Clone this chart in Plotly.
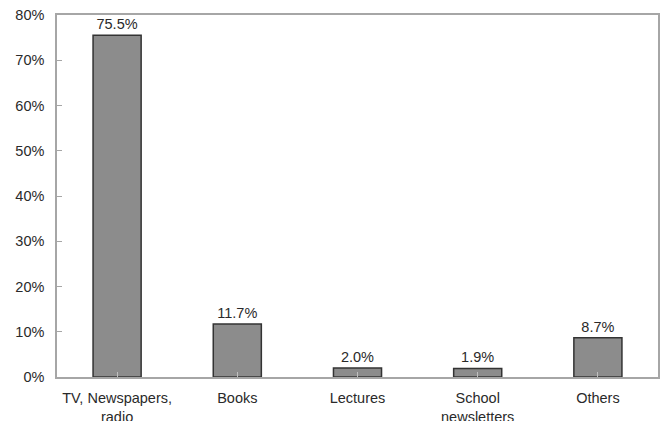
import plotly.graph_objects as go

categories = ["TV, Newspapers,<br>radio", "Books", "Lectures", "School<br>newsletters", "Others"]
values = [75.5, 11.7, 2.0, 1.9, 8.7]
y_ticks = [0, 10, 20, 30, 40, 50, 60, 70, 80]

font_family = "Liberation Sans, Arial, sans-serif"
text_color = "#2a2a2a"
fsize = 14.5

fig = go.Figure()
fig.add_trace(go.Bar(
    x=list(range(len(categories))),
    y=values,
    width=0.4,
    marker=dict(color="#8c8c8c", line=dict(color="#333333", width=1.5)),
    text=[f"{v:.1f}%" for v in values],
    textposition="outside",
    textfont=dict(family=font_family, size=fsize, color=text_color),
    cliponaxis=False,
))

fig.update_layout(
    width=665, height=421,
    margin=dict(l=57, r=7, t=15, b=44),
    paper_bgcolor="white", plot_bgcolor="white",
    showlegend=False,
    font=dict(family=font_family, size=fsize, color=text_color),
)
fig.update_xaxes(
    tickmode="array",
    tickvals=list(range(len(categories))),
    ticktext=categories,
    range=[-0.5, 4.5],
    showline=True, linecolor="#a6a6a6", linewidth=1.5, mirror=True,
    ticks="inside", tickson="boundaries", ticklen=5, tickcolor="#c0c0c0",
    showgrid=False, zeroline=False,
    tickfont=dict(size=fsize, color=text_color),
    ticklabelstandoff=7,
    automargin=False,
)
fig.update_yaxes(
    range=[0, 80],
    tickmode="array",
    tickvals=y_ticks,
    ticktext=[f"{t}%" for t in y_ticks],
    showline=True, linecolor="#a6a6a6", linewidth=1.5, mirror=True,
    ticks="inside", ticklen=5, tickcolor="#a6a6a6",
    showgrid=False, zeroline=False,
    tickfont=dict(size=fsize, color=text_color),
    ticklabelstandoff=8,
    automargin=False,
)

fig.write_html("out.html")
